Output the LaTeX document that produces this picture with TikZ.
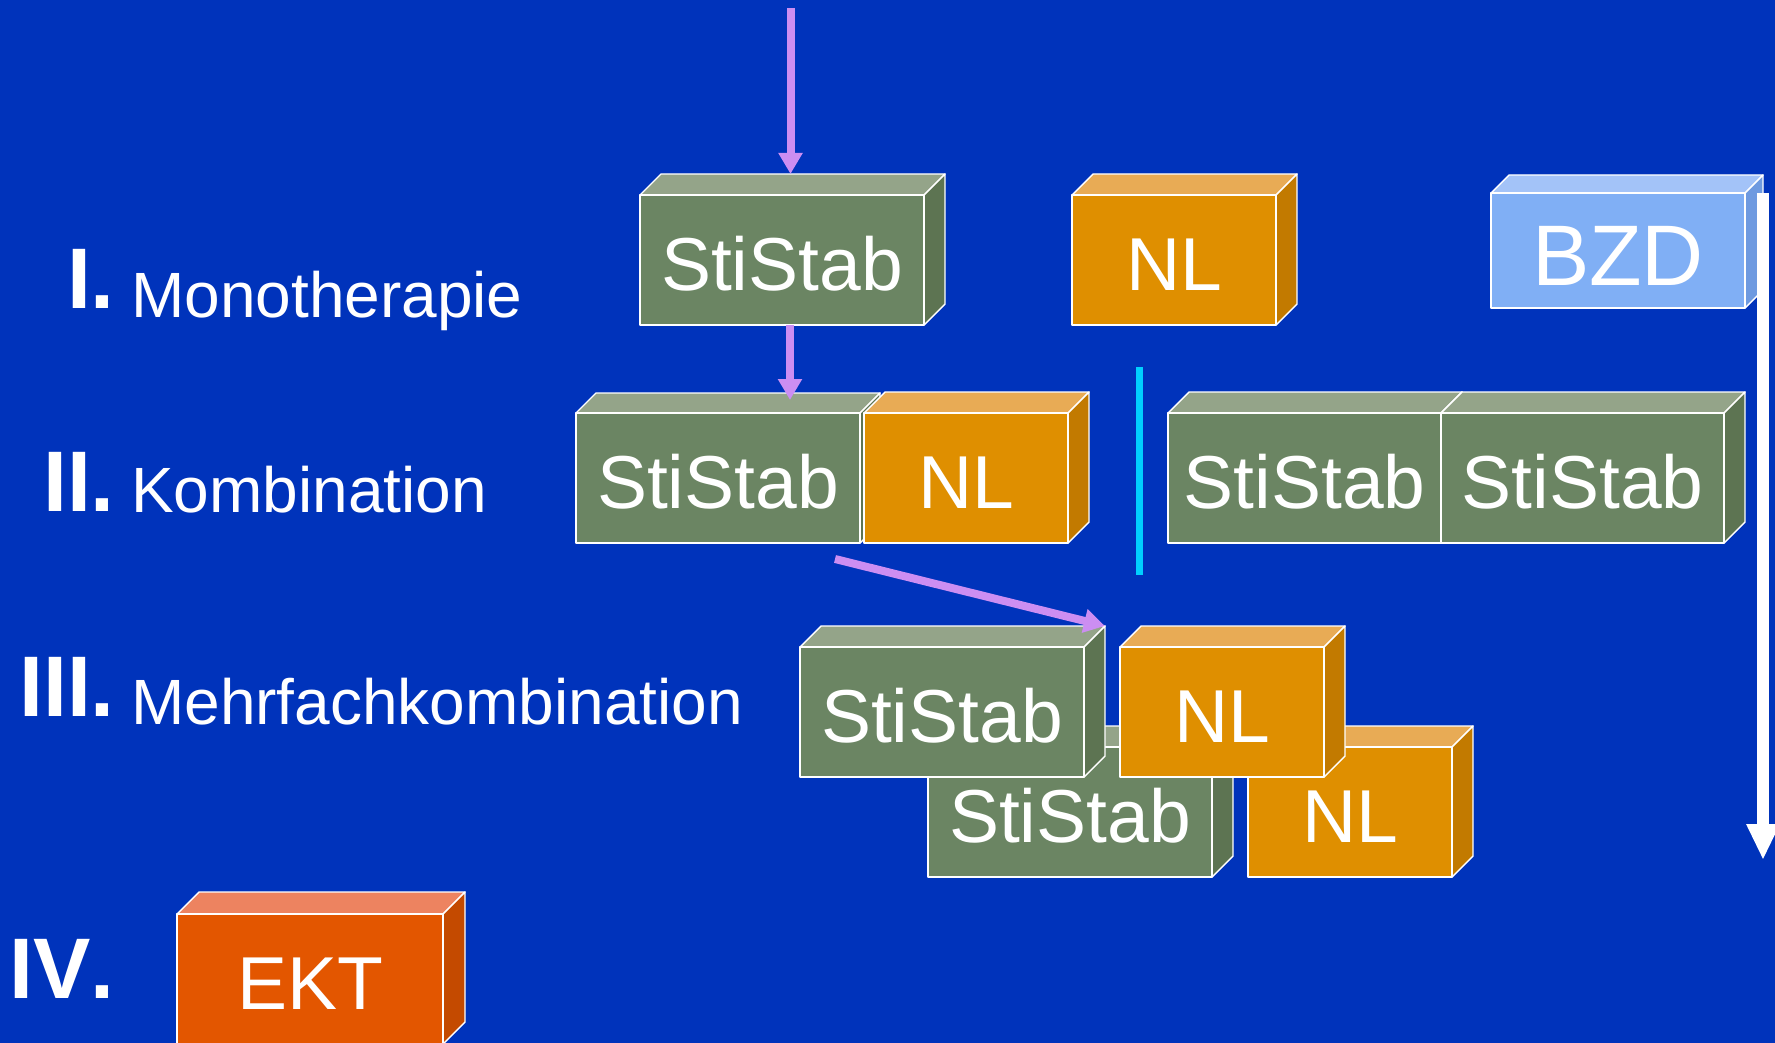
\documentclass[tikz,border=0pt]{standalone}
\usepackage{fontspec}
\setmainfont{Liberation Sans}
\usetikzlibrary{arrows.meta,calc}

\definecolor{bg}{HTML}{0033BB}
\definecolor{grnfront}{HTML}{6B8563}
\definecolor{grntop}{HTML}{94A489}
\definecolor{grnside}{HTML}{5D7452}
\definecolor{orgfront}{HTML}{DF8F00}
\definecolor{orgtop}{HTML}{E8AB55}
\definecolor{orgside}{HTML}{C27A00}
\definecolor{bzdfront}{HTML}{80AFF5}
\definecolor{bzdtop}{HTML}{A3C3F8}
\definecolor{bzdside}{HTML}{6E9AE0}
\definecolor{ektfront}{HTML}{E35600}
\definecolor{ekttop}{HTML}{ED8360}
\definecolor{ektside}{HTML}{C44A00}
\definecolor{arrowpurple}{HTML}{CC8EF2}
\definecolor{divcyan}{HTML}{00D0FF}

% #1 node options, #2 name, #3 x, #4 y (front top), #5 w, #6 h, #7 depth, #8 colour prefix, #9 text
\newcommand{\mycuboid}[9][]{%
  \filldraw[cubeedge, fill=#8top] (#3,#4) -- (#3+#5,#4) -- (#3+#5+#7,#4-#7) -- (#3+#7,#4-#7) -- cycle;
  \filldraw[cubeedge, fill=#8side] (#3+#5,#4) -- (#3+#5+#7,#4-#7) -- (#3+#5+#7,#4+#6-#7) -- (#3+#5,#4+#6) -- cycle;
  \node[cubefront, fill=#8front, minimum width=#5pt, minimum height=#6pt, #1] (#2) at (#3+#5/2,#4+#6/2) {#9};
}

\begin{document}
\begin{tikzpicture}[x=1pt,y=-1pt,
  cubeedge/.style={draw=white, line width=1.4pt, line join=round},
  cubefront/.style={cubeedge, text=white, inner sep=0pt, outer sep=0pt, text height=60pt, text depth=0pt, font=\fontsize{75}{75}\selectfont},
  parrow/.style={draw=arrowpurple, line width=8pt, -{Triangle[width=23pt,length=21pt]}},
  numlabel/.style={text=white, inner sep=0pt, anchor=base east, font=\bfseries\fontsize{86}{86}\selectfont\addfontfeatures{Kerning=Off}},
  steplabel/.style={text=white, inner sep=0pt, anchor=base west, font=\fontsize{64}{64}\selectfont}]

\useasboundingbox (0,0) rectangle (1775,1043);
\fill[bg] (0,0) rectangle (1775,1043);

% row I
\mycuboid{s1}{640}{195}{284}{130}{21}{grn}{StiStab}
\mycuboid{n1}{1072}{195}{204}{130}{21}{org}{NL}
\mycuboid[text height=69pt, font=\fontsize{86}{86}\selectfont]{b1}{1491}{193}{254}{115}{18}{bzd}{BZD}

% row II
\mycuboid{s2}{576}{413}{284}{130}{20}{grn}{StiStab}
\mycuboid{n2}{864}{413}{204}{130}{21}{org}{NL}
\mycuboid{s2b}{1168}{413}{273}{130}{21}{grn}{StiStab}
\mycuboid{s2c}{1441}{413}{283}{130}{21}{grn}{StiStab}

% row III
\mycuboid{s3b}{928}{747}{284}{130}{21}{grn}{StiStab}
\mycuboid{n3b}{1248}{747}{204}{130}{21}{org}{NL}
\mycuboid{s3a}{800}{647}{284}{130}{21}{grn}{StiStab}
\mycuboid{n3a}{1120}{647}{204}{130}{21}{org}{NL}

% row IV
\mycuboid{ekt}{177}{914}{266}{130}{22}{ekt}{EKT}

% labels
\node[numlabel] (r1) at (115,308) {I.};
\node[steplabel] (l1) at (131,317) {Monotherapie};
\node[numlabel] (r2) at (115,511) {II.};
\node[steplabel] (l2) at (131,512) {Kombination};
\node[numlabel] (r3) at (115,716) {III.};
\node[steplabel] (l3) at (131,724) {Mehrfachkombination};
\node[numlabel] (r4) at (115,998) {IV.};

% divider
\coordinate (c1) at (1139.5,367);
\coordinate (c2) at (1139.5,575);
\draw[draw=divcyan, line width=7pt] (c1) -- (c2);

% arrows
\coordinate (a0) at (790.5,8);
\draw[parrow] (a0) -- ($(s1.north west)+(150.5,-21)$);
\draw[parrow] ($(s1.south west)+(150,0)$) -- ($(s2.north west)+(214,-13)$);
\draw[parrow] ($(s2.south west)+(259,16)$) -- ($(s3a.north east)+(21,-21)$);
\draw[draw=white, line width=12pt, -{Triangle[width=31pt,length=36pt]}] ($(b1.north east)+(18,0)$) -- ($(b1.north east)+(18,667)$);
\end{tikzpicture}
\end{document}
